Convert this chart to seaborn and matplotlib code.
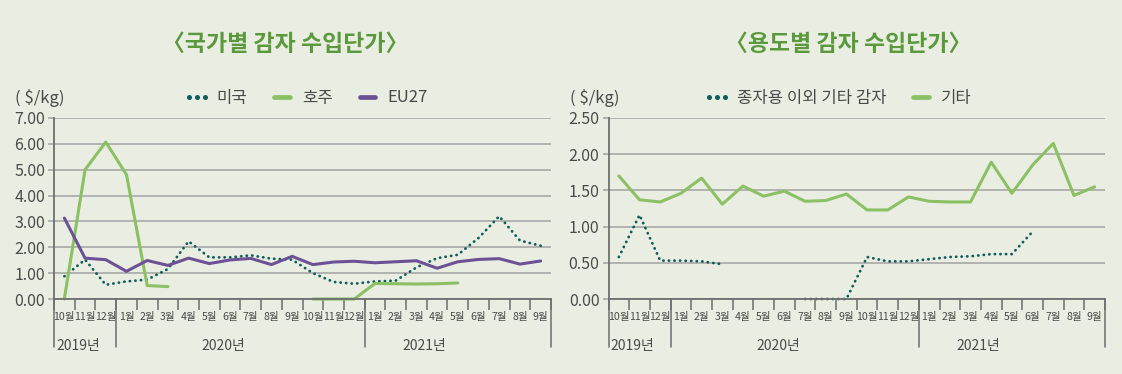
import numpy as np
import pandas as pd
import seaborn as sns
import matplotlib.pyplot as plt
from matplotlib.lines import Line2D
from matplotlib import transforms

sns.set_theme(style="white")
plt.rcParams['font.family'] = ['Liberation Sans Narrow', 'Noto Sans CJK KR', 'DejaVu Sans']

nan = np.nan

# Monthly categories, Oct 2019 – Sep 2021
months = ['10월', '11월', '12월',
          '1월', '2월', '3월', '4월', '5월', '6월', '7월', '8월', '9월', '10월', '11월', '12월',
          '1월', '2월', '3월', '4월', '5월', '6월', '7월', '8월', '9월']
years = ['2019년', '2020년', '2021년']

# Import unit price by country ($/kg)
usa = [0.88, 1.52, 0.55, 0.68, 0.75, 1.16, 2.23, 1.61, 1.61, 1.69, 1.56, 1.52,
       1.00, 0.66, 0.59, 0.68, 0.71, 1.22, 1.58, 1.71, 2.36, 3.20, 2.26, 2.06]
australia = [0.00, 5.00, 6.07, 4.81, 0.52, 0.48, nan, nan, nan, nan, nan, nan,
             0.00, 0.00, 0.00, 0.60, 0.59, 0.58, 0.59, 0.62, nan, nan, nan, nan]
eu27 = [3.13, 1.58, 1.52, 1.07, 1.49, 1.30, 1.58, 1.37, 1.51, 1.57, 1.33, 1.65,
        1.33, 1.43, 1.46, 1.40, 1.44, 1.48, 1.19, 1.44, 1.53, 1.56, 1.35, 1.47]

# Import unit price by use ($/kg)
non_seed = [0.58, 1.16, 0.53, 0.53, 0.52, 0.48, nan, nan, nan, 0.00, 0.00, 0.00,
            0.58, 0.52, 0.52, 0.55, 0.58, 0.59, 0.62, 0.62, 0.93, nan, nan, nan]
other = [1.70, 1.37, 1.34, 1.46, 1.67, 1.31, 1.56, 1.42, 1.49, 1.35, 1.36, 1.45,
         1.23, 1.23, 1.41, 1.35, 1.34, 1.34, 1.89, 1.46, 1.85, 2.15, 1.43, 1.55]

BG = '#eaeee2'
GREEN = '#8cc064'
PURPLE = '#6c5195'
TEAL = '#0f5e5b'
TITLE_GREEN = '#5b9a3c'
AXIS = '#6e6e6e'
GRID = '#a3a3a3'
TEXT = '#4a4a4a'
HANGUL = ['Noto Sans CJK KR', 'DejaVu Sans']
NARROW = ['Liberation Sans Narrow', 'Noto Sans CJK KR', 'DejaVu Sans']
DOTS = (0, (0.1, 1.9))


def segments(values):
    """Split a series at missing months so each run is drawn as its own line."""
    df = pd.DataFrame({'idx': np.arange(len(values)), 'val': values})
    df['seg'] = df['val'].isna().cumsum()
    return df.dropna()


W, H = 1122, 374
fig = plt.figure(figsize=(W / 100, H / 100), dpi=100, facecolor=BG)


def px_axes(x0, x1, y0, y1):
    return fig.add_axes([x0 / W, 1 - y1 / H, (x1 - x0) / W, (y1 - y0) / H], facecolor=BG)


ax1 = px_axes(54, 551, 118, 299)
ax2 = px_axes(608.5, 1105, 118, 299)

year_bounds = [-0.5, 2.5, 14.5, 23.5]
year_pos = [0.67, 7.7, 17.4]


def style_axes(ax, ymax, step):
    ax.set_xlim(-0.5, len(months) - 0.5)
    ax.set_ylim(0, ymax)
    ax.set_yticks(np.arange(0, ymax + step / 2, step))
    ax.set_yticklabels([f'{v:.2f}' for v in np.arange(0, ymax + step / 2, step)],
                       family=NARROW, fontsize=11.5, color=TEXT)
    ax.yaxis.grid(True, color=GRID, lw=1.1)
    ax.set_axisbelow(True)
    for s in ['top', 'right']:
        ax.spines[s].set_visible(False)
    for s in ['left', 'bottom']:
        ax.spines[s].set_color(AXIS)
        ax.spines[s].set_linewidth(1.3)
    ax.tick_params(axis='y', which='major', direction='out', length=4.5,
                   color=GRID, width=1.1, pad=2, left=True)
    # month boundaries as major ticks, month names on minor ticks
    ax.set_xticks(np.arange(-0.5, len(months), 1.0))
    ax.set_xticklabels([])
    ax.set_xticks(np.arange(len(months)), minor=True)
    ax.set_xticklabels(months, minor=True, family=NARROW, fontsize=7.6, color=TEXT)
    ax.tick_params(axis='x', which='major', direction='out', length=8,
                   color=AXIS, width=1.1, bottom=True)
    ax.tick_params(axis='x', which='minor', length=0, pad=9.5, bottom=True)
    ax.set_xlabel('')
    ax.set_ylabel('')
    trans = transforms.blended_transform_factory(ax.transData, ax.transAxes)
    for xb in year_bounds:
        ax.plot([xb, xb], [0, -0.265], transform=trans, color=AXIS, lw=1.1,
                clip_on=False)
    for xp, yl in zip(year_pos, years):
        ax.text(xp, -0.26, yl, transform=trans, ha='center', va='center',
                family=NARROW, fontsize=10, color=TEXT)


def draw(ax, values, color, dotted=False):
    df = segments(values)
    kws = dict(lw=2.0, linestyle=DOTS, dash_capstyle='round') if dotted else \
        dict(lw=2.2, solid_capstyle='round', solid_joinstyle='round')
    sns.lineplot(data=df, x='idx', y='val', units='seg', estimator=None,
                 color=color, ax=ax, legend=False, clip_on=False, **kws)


draw(ax1, usa, TEAL, dotted=True)
draw(ax1, australia, GREEN)
draw(ax1, eu27, PURPLE)
style_axes(ax1, 7.0, 1.0)

draw(ax2, non_seed, TEAL, dotted=True)
draw(ax2, other, GREEN)
style_axes(ax2, 2.5, 0.5)

# Titles
fig.text(285 / W, 1 - 44 / H, '〈국가별 감자 수입단가〉', ha='center', va='center',
         family=HANGUL, fontsize=16.5, fontweight='bold', color=TITLE_GREEN)
fig.text(848 / W, 1 - 44 / H, '〈용도별 감자 수입단가〉', ha='center', va='center',
         family=HANGUL, fontsize=16.5, fontweight='bold', color=TITLE_GREEN)

# Unit labels
fig.text(15 / W, 1 - 98 / H, '( $/kg)', ha='left', va='center',
         family=NARROW, fontsize=12, color=TEXT)
fig.text(570 / W, 1 - 98 / H, '( $/kg)', ha='left', va='center',
         family=NARROW, fontsize=12, color=TEXT)


def dot_handle():
    return Line2D([], [], color=TEAL, ls='', marker='o', ms=3.6, mew=0)


def line_handle(c):
    return Line2D([], [], color=c, lw=3.4, solid_capstyle='round')


leg_kw = dict(frameon=False, loc='center left', handlelength=1.55, handletextpad=0.42,
              columnspacing=1.3, borderpad=0, borderaxespad=0, numpoints=3,
              prop={'family': HANGUL, 'size': 12})
leg1 = fig.legend([dot_handle(), line_handle(GREEN), line_handle(PURPLE)],
                  ['미국', '호주', 'EU27'], ncol=3,
                  bbox_to_anchor=(184 / W, 1 - 98 / H), **leg_kw)
leg2 = fig.legend([dot_handle(), line_handle(GREEN)],
                  ['종자용 이외 기타 감자', '기타'], ncol=2,
                  bbox_to_anchor=(704 / W, 1 - 98 / H), **leg_kw)
for leg in (leg1, leg2):
    for t in leg.get_texts():
        t.set_color(TEXT)

fig.savefig('out.png', dpi=100, facecolor=BG)
